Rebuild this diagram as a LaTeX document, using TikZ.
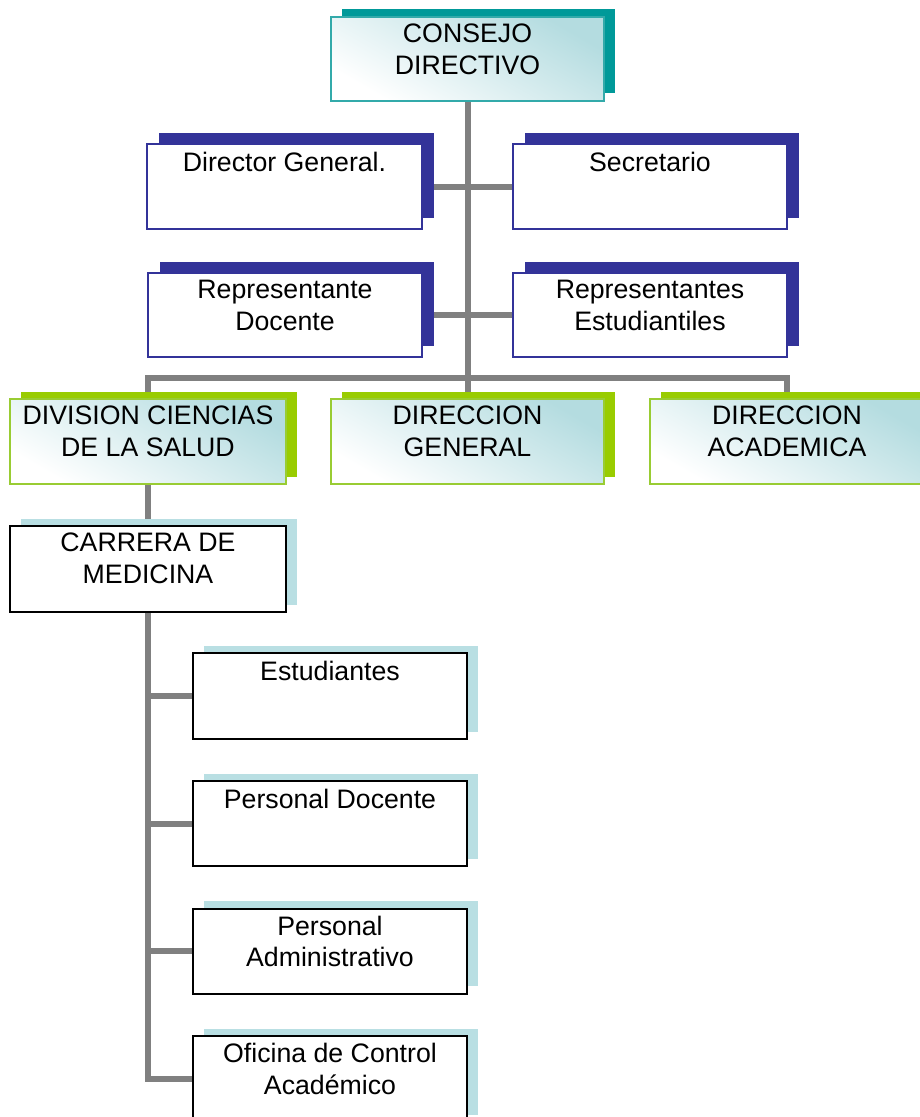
\documentclass[tikz,border=0pt]{standalone}
\usepackage{fontspec}
\setmainfont{Liberation Sans}
\usetikzlibrary{shadows,backgrounds}
\definecolor{tealS}{HTML}{009999}
\definecolor{tealB}{HTML}{33AAAA}
\definecolor{blueS}{HTML}{333399}
\definecolor{greenS}{HTML}{99CC00}
\definecolor{greenB}{HTML}{99CC33}
\definecolor{lblueS}{HTML}{B9DFE3}
\definecolor{shadeC}{HTML}{B4DCE0}
\definecolor{connC}{HTML}{808080}
\tikzset{
  box/.style={rectangle, minimum width=274pt, minimum height=85pt, inner sep=0pt, outer sep=0pt},
  shadedfill/.style={top color=shadeC, middle color=white!20!shadeC!50!white, bottom color=white, shading angle=-30},
  tealbox/.style={box, draw=tealB, line width=2pt, shadedfill,
    general shadow={fill=tealS, shadow xshift=10.5pt, shadow yshift=8.5pt}},
  bluebox/.style={box, draw=blueS, line width=1.5pt, fill=white,
    general shadow={fill=blueS, shadow xshift=11.5pt, shadow yshift=11pt}},
  greenbox/.style={box, draw=greenB, line width=2pt, shadedfill,
    general shadow={fill=greenS, shadow xshift=11pt, shadow yshift=7pt}},
  blackbox/.style={box, draw=black, line width=2pt, fill=white,
    general shadow={fill=lblueS, shadow xshift=11pt, shadow yshift=7.5pt}},
  lbl/.style={anchor=north, inner sep=0pt, align=center, text=black,
    font=\fontsize{26.7}{31.5}\selectfont, execute at begin node={\rule{0pt}{20pt}}},
  connector/.style={draw=connC, line width=6pt}
}
\begin{document}
\begin{tikzpicture}[x=1pt, y=-1pt]
\useasboundingbox (0,0) rectangle (920,1117);
% boxes (front rectangles)
\node[tealbox, minimum width=273pt, minimum height=84pt] (cd) at (467.5,59) {};
\node[bluebox, minimum width=275pt] (dg) at (284.5,186.5) {};
\node[bluebox] (sec) at (650,186.5) {};
\node[bluebox, minimum height=84pt] (rd) at (285,315) {};
\node[bluebox, minimum height=84pt] (re) at (650,315) {};
\node[greenbox, minimum width=276pt] (div) at (148,441.5) {};
\node[greenbox, minimum width=273pt] (dgen) at (467.5,441.5) {};
\node[greenbox] (dac) at (787,441.5) {};
\node[blackbox, minimum width=276pt, minimum height=86pt] (cm) at (148,569) {};
\node[blackbox, minimum height=86pt] (est) at (330,696) {};
\node[blackbox, minimum height=85pt] (pd) at (330,823.5) {};
\node[blackbox, minimum height=85pt] (pa) at (330,951) {};
\node[blackbox, minimum height=86pt] (oc) at (330,1079) {};
% connectors (behind boxes)
\coordinate (bar) at (467.5,378);
\begin{scope}[on background layer]
\draw[connector] (cd.south) -- (dgen.north);
\draw[connector] (dg.east) -- (sec.west);
\draw[connector] (rd.east) -- (re.west);
\draw[connector] (div.north) |- (bar) -| (dac.north);
\draw[connector] (div.south) -- (cm.north);
\draw[connector] (cm.south) |- (oc.west);
\draw[connector] (cm.south |- est.west) -- (est.west);
\draw[connector] (cm.south |- pd.west) -- (pd.west);
\draw[connector] (cm.south |- pa.west) -- (pa.west);
\end{scope}
% texts
\node[lbl] (tcd) at ([yshift=-7pt]cd.north) {CONSEJO\\DIRECTIVO};
\node[lbl] (tdg) at ([yshift=-7pt]dg.north) {Director General.};
\node[lbl] (tsec) at ([yshift=-7pt]sec.north) {Secretario};
\node[lbl] (trd) at ([yshift=-7pt]rd.north) {Representante\\Docente};
\node[lbl] (tre) at ([yshift=-7pt]re.north) {Representantes\\Estudiantiles};
\node[lbl] (tdiv) at ([yshift=-7pt]div.north) {DIVISION CIENCIAS\\DE LA SALUD};
\node[lbl] (tdgen) at ([yshift=-7pt]dgen.north) {DIRECCION\\GENERAL};
\node[lbl] (tdac) at ([yshift=-7pt]dac.north) {DIRECCION\\ACADEMICA};
\node[lbl] (tcm) at ([yshift=-7pt]cm.north) {CARRERA DE\\MEDICINA};
\node[lbl] (test) at ([yshift=-7pt]est.north) {Estudiantes};
\node[lbl] (tpd) at ([yshift=-7pt]pd.north) {Personal Docente};
\node[lbl] (tpa) at ([yshift=-7pt]pa.north) {Personal\\Administrativo};
\node[lbl] (toc) at ([yshift=-7pt]oc.north) {Oficina de Control\\Académico};
\end{tikzpicture}
\end{document}
